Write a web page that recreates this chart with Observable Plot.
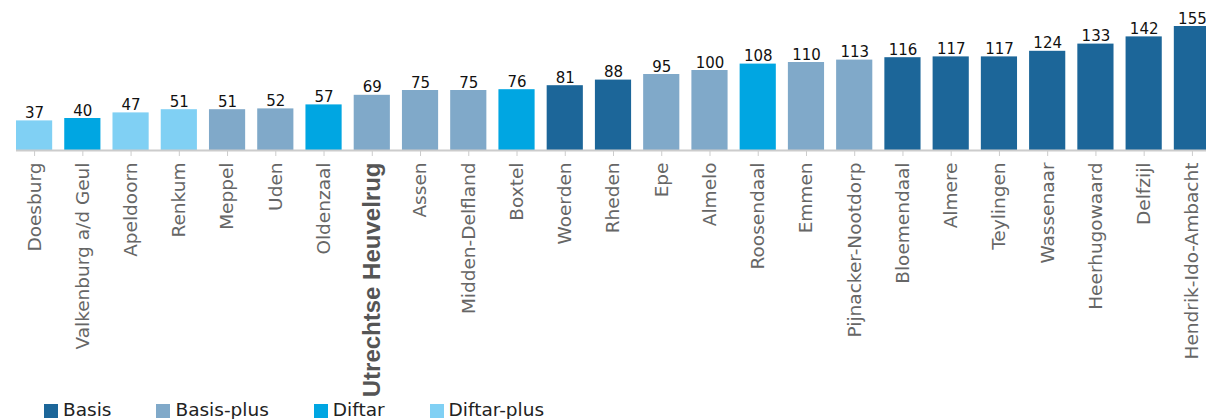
<!DOCTYPE html>
<html>
<head>
<meta charset="utf-8">
<script src="https://cdn.jsdelivr.net/npm/d3@7"></script>
<script src="https://cdn.jsdelivr.net/npm/@observablehq/plot@0.6"></script>
<style>
  html, body { margin: 0; padding: 0; background: #fff; overflow: hidden; }
  #chart svg { display: block; }
  .legend { display: flex; align-items: center; margin-left: 44px; height: 19px; font-family: "DejaVu Sans", sans-serif; font-size: 18.5px; color: #222; line-height: 19px; }
  .legend .item { display: flex; align-items: center; margin-right: 45px; }
  .legend .sw { width: 14px; height: 14px; margin-right: 5px; margin-top: 3px; }
</style>
</head>
<body>
<div id="chart"></div>
<div class="legend" id="legend"></div>
<script>
const categories = ["Doesburg","Valkenburg a/d Geul","Apeldoorn","Renkum","Meppel","Uden","Oldenzaal","Utrechtse Heuvelrug","Assen","Midden-Delfland","Boxtel","Woerden","Rheden","Epe","Almelo","Roosendaal","Emmen","Pijnacker-Nootdorp","Bloemendaal","Almere","Teylingen","Wassenaar","Heerhugowaard","Delfzijl","Hendrik-Ido-Ambacht"];
const values = [37,40,47,51,51,52,57,69,75,75,76,81,88,95,100,108,110,113,116,117,117,124,133,142,155];
const types = ["Diftar-plus","Diftar","Diftar-plus","Diftar-plus","Basis-plus","Basis-plus","Diftar","Basis-plus","Basis-plus","Basis-plus","Diftar","Basis","Basis","Basis-plus","Basis-plus","Diftar","Basis-plus","Basis-plus","Basis","Basis","Basis","Basis","Basis","Basis","Basis"];
const typeNames = ["Basis","Basis-plus","Diftar","Diftar-plus"];
const typeColors = ["#1c6699","#80a9c9","#00a6e2","#80d0f4"];
const highlight = "Utrechtse Heuvelrug";

const data = categories.map((c, i) => ({name: c, value: values[i], type: types[i]}));

const chart = Plot.plot({
  width: 1206,
  height: 400,
  marginTop: 26,
  marginBottom: 250,
  marginLeft: 16,
  marginRight: -4,
  style: {fontFamily: "DejaVu Sans", background: "#fff"},
  x: {domain: categories, paddingInner: 0.25, paddingOuter: 0, round: false},
  y: {domain: [0, 155], axis: null},
  color: {domain: typeNames, range: typeColors},
  marks: [
    Plot.barY(data, {x: "name", y: "value", fill: "type"}),
    Plot.ruleY([0], {stroke: "#cccccc", strokeWidth: 2}),
    Plot.text(data, {x: "name", y: "value", text: d => String(d.value), lineAnchor: "bottom", dy: -3, fontSize: 15, fill: "#111"}),
    Plot.axisX({tickRotate: -90, tickSize: 6, tickPadding: 6, fontSize: 18.5, stroke: "#cccccc", fill: "#666", label: null})
  ]
});

d3.select(chart).selectAll("text").filter(function() { return this.textContent === highlight; })
  .attr("font-family", "Liberation Sans, Arial, sans-serif")
  .attr("font-weight", "bold")
  .attr("font-size", 24)
  .attr("fill", "#555");

document.getElementById("chart").appendChild(chart);

const legend = document.getElementById("legend");
typeNames.forEach((t, i) => {
  const item = document.createElement("div");
  item.className = "item";
  const sw = document.createElement("span");
  sw.className = "sw";
  sw.style.background = typeColors[i];
  const lab = document.createElement("span");
  lab.textContent = t;
  item.appendChild(sw);
  item.appendChild(lab);
  legend.appendChild(item);
});
</script>
</body>
</html>
